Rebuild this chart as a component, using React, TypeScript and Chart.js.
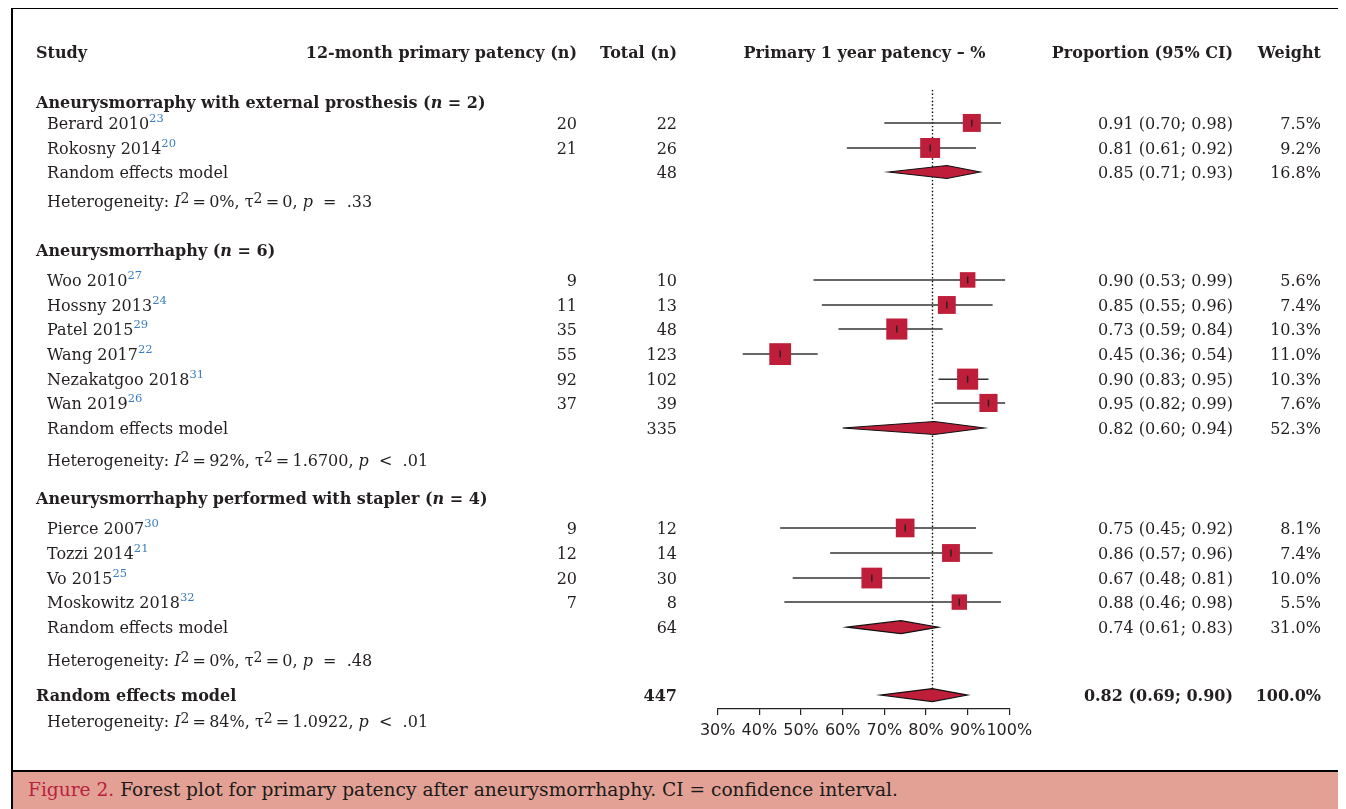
import React, { useEffect, useRef } from "react";
import { Chart, registerables } from "chart.js";

Chart.register(...registerables);

// ---------------- DATA ----------------
const groupTitles = [
  "Aneurysmorraphy with external prosthesis",
  "Aneurysmorrhaphy",
  "Aneurysmorrhaphy performed with stapler",
];
const groupN = [2, 6, 4];

const studyNames = [
  "Berard 2010", "Rokosny 2014",
  "Woo 2010", "Hossny 2013", "Patel 2015", "Wang 2017", "Nezakatgoo 2018", "Wan 2019",
  "Pierce 2007", "Tozzi 2014", "Vo 2015", "Moskowitz 2018",
];
const studyRefs = ["23", "20", "27", "24", "29", "22", "31", "26", "30", "21", "25", "32"];
const events = [20, 21, 9, 11, 35, 55, 92, 37, 9, 12, 20, 7];
const totals = [22, 26, 10, 13, 48, 123, 102, 39, 12, 14, 30, 8];
const proportion = [0.91, 0.81, 0.90, 0.85, 0.73, 0.45, 0.90, 0.95, 0.75, 0.86, 0.67, 0.88];
const ciLower = [0.70, 0.61, 0.53, 0.55, 0.59, 0.36, 0.83, 0.82, 0.45, 0.57, 0.48, 0.46];
const ciUpper = [0.98, 0.92, 0.99, 0.96, 0.84, 0.54, 0.95, 0.99, 0.92, 0.96, 0.81, 0.98];
const weightPct = [7.5, 9.2, 5.6, 7.4, 10.3, 11.0, 10.3, 7.6, 8.1, 7.4, 10.0, 5.5];

const pooledTotal = [48, 335, 64];
const pooledProp = [0.85, 0.82, 0.74];
const pooledLower = [0.71, 0.60, 0.61];
const pooledUpper = [0.93, 0.94, 0.83];
const pooledWeight = [16.8, 52.3, 31.0];
const hetI2 = ["0%", "92%", "0%"];
const hetTau2 = ["0", "1.6700", "0"];
const hetP = ["= .33", "< .01", "= .48"];

const overallTotal = 447;
const overallProp = 0.815;
const overallLower = 0.69;
const overallUpper = 0.90;
const overallWeight = 100.0;
const overallI2 = "84%";
const overallTau2 = "1.0922";
const overallP = "< .01";

const axisMin = 0.3;
const axisMax = 1.0;
const axisStep = 0.1;

// ---------------- LAYOUT (row positions, not data) ----------------
const ROW_GROUP = [2.02, 7.98, 17.98];
const ROW_STUDY = [2.86, 3.87, 9.19, 10.2, 11.17, 12.18, 13.19, 14.15, 19.19, 20.2, 21.21, 22.18];
const ROW_POOLED = [4.84, 15.16, 23.19];
const ROW_HET = [6.01, 16.45, 24.52];
const ROW_OVERALL = 25.93;
const ROW_OVERALL_HET = 26.98;
const ROW_REF_TOP = 1.53;
const ROW_REF_BOTTOM = 25.69;
const Y_MAX = 26.49;

const W = 1328;
const H = 761;

const TEXT = "#231F20";
const RED = "#BE1E3A";
const REFBLUE = "#3A7DC0";
const SERIF = '"DejaVu Serif", serif';
const F = (style: string, size: number) => `${style} ${size}px ${SERIF}`;
const REG = F("normal", 16);
const BOLD = F("bold", 16);
const ITAL = F("italic", 16);
const BOLDITAL = F("italic bold", 16);
const SUPREF = F("normal", 11.5);
const SUP = F("normal", 14);

// column anchors (canvas px)
const X_GROUP = 23;
const X_STUDY = 34;
const X_EVENTS = 564;
const X_TOTAL = 664;
const X_CI = 1220;
const X_WEIGHT = 1308;

type Seg = { t: string; f: string; c?: string; dy?: number };

function drawSegs(ctx: CanvasRenderingContext2D, segs: Seg[], x: number, yMid: number, align: "left" | "right" | "center") {
  let total = 0;
  for (const s of segs) {
    ctx.font = s.f;
    total += ctx.measureText(s.t).width;
  }
  let cx = align === "left" ? x : align === "right" ? x - total : x - total / 2;
  ctx.textAlign = "left";
  ctx.textBaseline = "alphabetic";
  const base = yMid + 5.8;
  for (const s of segs) {
    ctx.font = s.f;
    ctx.fillStyle = s.c || TEXT;
    ctx.fillText(s.t, cx, base + (s.dy || 0));
    cx += ctx.measureText(s.t).width;
  }
}

const ciText = (p: number, lo: number, hi: number) =>
  `${(p + 1e-9).toFixed(2)} (${lo.toFixed(2)}; ${hi.toFixed(2)})`;
const wText = (w: number) => `${w.toFixed(1)}%`;

const TH = "\u2009";
function hetSegs(i2: string, tau2: string, p: string): Seg[] {
  return [
    { t: "Heterogeneity: ", f: REG },
    { t: "I", f: ITAL },
    { t: "2", f: SUP, dy: -4 },
    { t: TH + "=" + TH + i2 + ", ", f: REG },
    { t: "\u03C4", f: REG },
    { t: "2", f: SUP, dy: -4 },
    { t: TH + "=" + TH + tau2 + ", ", f: REG },
    { t: "p", f: ITAL },
    { t: "  " + p.replace(" ", "  "), f: REG },
  ];
}

const forestPlugin = {
  id: "forest",
  beforeDatasetsDraw(chart: any) {
    const ctx: CanvasRenderingContext2D = chart.ctx;
    const xs = chart.scales.x;
    const ys = chart.scales.y;
    ctx.save();
    ctx.strokeStyle = "#000";
    ctx.lineWidth = 1.4;
    ctx.setLineDash([1.4, 2.2]);
    const rx = Math.round(xs.getPixelForValue(overallProp)) + 0.5;
    ctx.beginPath();
    ctx.moveTo(rx, ys.getPixelForValue(ROW_REF_TOP));
    ctx.lineTo(rx, ys.getPixelForValue(ROW_REF_BOTTOM));
    ctx.stroke();
    ctx.setLineDash([]);
    ctx.strokeStyle = "#333";
    ctx.lineWidth = 1.5;
    studyNames.forEach((_, i) => {
      const y = ys.getPixelForValue(ROW_STUDY[i]);
      ctx.beginPath();
      ctx.moveTo(xs.getPixelForValue(ciLower[i]), y);
      ctx.lineTo(xs.getPixelForValue(ciUpper[i]), y);
      ctx.stroke();
    });
    ctx.restore();
  },
  afterDatasetsDraw(chart: any) {
    const ctx: CanvasRenderingContext2D = chart.ctx;
    const xs = chart.scales.x;
    const ys = chart.scales.y;
    ctx.save();
    ctx.strokeStyle = "#222";
    ctx.lineWidth = 1.4;
    studyNames.forEach((_, i) => {
      const y = ys.getPixelForValue(ROW_STUDY[i]);
      const x = xs.getPixelForValue(proportion[i]);
      ctx.beginPath();
      ctx.moveTo(x, y - 3.5);
      ctx.lineTo(x, y + 3.5);
      ctx.stroke();
    });
    const diamond = (est: number, lo: number, hi: number, row: number) => {
      const y = ys.getPixelForValue(row);
      const h = 6.5;
      ctx.beginPath();
      ctx.moveTo(xs.getPixelForValue(lo), y);
      ctx.lineTo(xs.getPixelForValue(est), y - h);
      ctx.lineTo(xs.getPixelForValue(hi), y);
      ctx.lineTo(xs.getPixelForValue(est), y + h);
      ctx.closePath();
      ctx.fillStyle = RED;
      ctx.fill();
      ctx.strokeStyle = "#111";
      ctx.lineWidth = 1.1;
      ctx.stroke();
    };
    pooledProp.forEach((p, g) => diamond(p, pooledLower[g], pooledUpper[g], ROW_POOLED[g]));
    diamond(overallProp, overallLower, overallUpper, ROW_OVERALL);
    ctx.restore();
  },
  afterDraw(chart: any) {
    const ctx: CanvasRenderingContext2D = chart.ctx;
    const ys = chart.scales.y;
    const area = chart.chartArea;
    ctx.save();
    const Y = (r: number) => ys.getPixelForValue(r);
    const hy = Y(0);
    drawSegs(ctx, [{ t: "Study", f: BOLD }], X_GROUP, hy, "left");
    drawSegs(ctx, [{ t: "12-month primary patency (n)", f: BOLD }], X_EVENTS, hy, "right");
    drawSegs(ctx, [{ t: "Total (n)", f: BOLD }], X_TOTAL, hy, "right");
    drawSegs(ctx, [{ t: "Primary 1 year patency \u2013 %", f: BOLD }], (area.left + area.right) / 2 + 1, hy, "center");
    drawSegs(ctx, [{ t: "Proportion (95% CI)", f: BOLD }], X_CI, hy, "right");
    drawSegs(ctx, [{ t: "Weight", f: BOLD }], X_WEIGHT, hy, "right");

    groupTitles.forEach((title, g) => {
      drawSegs(ctx, [
        { t: title + " (", f: BOLD },
        { t: "n", f: BOLDITAL },
        { t: " = " + groupN[g] + ")", f: BOLD },
      ], X_GROUP, Y(ROW_GROUP[g]), "left");
    });

    studyNames.forEach((name, i) => {
      const y = Y(ROW_STUDY[i]);
      drawSegs(ctx, [
        { t: name, f: REG },
        { t: studyRefs[i], f: SUPREF, c: REFBLUE, dy: -7 },
      ], X_STUDY, y, "left");
      drawSegs(ctx, [{ t: String(events[i]), f: REG }], X_EVENTS, y, "right");
      drawSegs(ctx, [{ t: String(totals[i]), f: REG }], X_TOTAL, y, "right");
      drawSegs(ctx, [{ t: ciText(proportion[i], ciLower[i], ciUpper[i]), f: REG }], X_CI, y, "right");
      drawSegs(ctx, [{ t: wText(weightPct[i]), f: REG }], X_WEIGHT, y, "right");
    });

    pooledTotal.forEach((tot, g) => {
      const y = Y(ROW_POOLED[g]);
      drawSegs(ctx, [{ t: "Random effects model", f: REG }], X_STUDY, y, "left");
      drawSegs(ctx, [{ t: String(tot), f: REG }], X_TOTAL, y, "right");
      drawSegs(ctx, [{ t: ciText(pooledProp[g], pooledLower[g], pooledUpper[g]), f: REG }], X_CI, y, "right");
      drawSegs(ctx, [{ t: wText(pooledWeight[g]), f: REG }], X_WEIGHT, y, "right");
      drawSegs(ctx, hetSegs(hetI2[g], hetTau2[g], hetP[g]), X_STUDY, Y(ROW_HET[g]), "left");
    });

    const oy = Y(ROW_OVERALL);
    drawSegs(ctx, [{ t: "Random effects model", f: BOLD }], X_GROUP, oy, "left");
    drawSegs(ctx, [{ t: String(overallTotal), f: BOLD }], X_TOTAL, oy, "right");
    drawSegs(ctx, [{ t: ciText(overallProp, overallLower, overallUpper), f: BOLD }], X_CI, oy, "right");
    drawSegs(ctx, [{ t: wText(overallWeight), f: BOLD }], X_WEIGHT, oy, "right");
    drawSegs(ctx, hetSegs(overallI2, overallTau2, overallP), X_STUDY, Y(ROW_OVERALL_HET), "left");
    ctx.restore();
  },
};

export default function App() {
  const ref = useRef<HTMLCanvasElement | null>(null);

  useEffect(() => {
    if (!ref.current) return;
    const radius = (c: any) => (6.57 * Math.sqrt(weightPct[c.dataIndex] || 0)) / Math.SQRT2;
    const chart = new Chart(ref.current, {
      type: "scatter",
      data: {
        datasets: [
          {
            label: "Studies",
            data: studyNames.map((_, i) => ({ x: proportion[i], y: ROW_STUDY[i] })),
            backgroundColor: RED,
            borderWidth: 0,
            pointStyle: "rect",
            pointRadius: radius,
            pointHoverRadius: radius,
          } as any,
        ],
      },
      options: {
        responsive: false,
        animation: false,
        events: [],
        devicePixelRatio: 1,
        layout: { padding: { left: 704.7, right: 331.7, top: 43, bottom: 0 } },
        plugins: { legend: { display: false }, tooltip: { enabled: false } },
        scales: {
          x: {
            type: "linear",
            min: axisMin,
            max: axisMax,
            afterFit: (s: any) => {
              s.height = 61;
            },
            ticks: {
              stepSize: axisStep,
              autoSkip: false,
              maxRotation: 0,
              padding: 6,
              color: TEXT,
              font: { family: '"DejaVu Sans", sans-serif', size: 16 },
              callback: (v: any) => `${Math.round(Number(v) * 100)}%`,
            },
            grid: { drawOnChartArea: false, drawTicks: true, tickLength: 6, color: "#222", lineWidth: 1.2 },
            border: { display: true, color: "#222", width: 1.2 },
          },
          y: {
            type: "linear",
            display: false,
            min: 0,
            max: Y_MAX,
            reverse: true,
          },
        },
        clip: false as any,
      },
      plugins: [forestPlugin],
    });
    return () => chart.destroy();
  }, []);

  return (
    <div
      style={{
        marginLeft: 3,
        marginTop: -1,
        width: W,
        border: "2px solid #000",
        borderBottom: "none",
        background: "#fff",
      }}
    >
      <canvas ref={ref} width={W} height={H} style={{ display: "block", width: W, height: H }} />
      <div
        style={{
          borderTop: "2px solid #000",
          background: "#E3A195",
          height: 44,
          overflow: "hidden",
          paddingLeft: 15,
          fontFamily: SERIF,
          fontSize: 18.6,
          lineHeight: "36px",
          color: "#1a1a1a",
          whiteSpace: "nowrap",
        }}
      >
        <span style={{ color: "#B8213E" }}>Figure 2.</span> Forest plot for primary patency after aneurysmorrhaphy. CI = confidence interval.
      </div>
    </div>
  );
}
